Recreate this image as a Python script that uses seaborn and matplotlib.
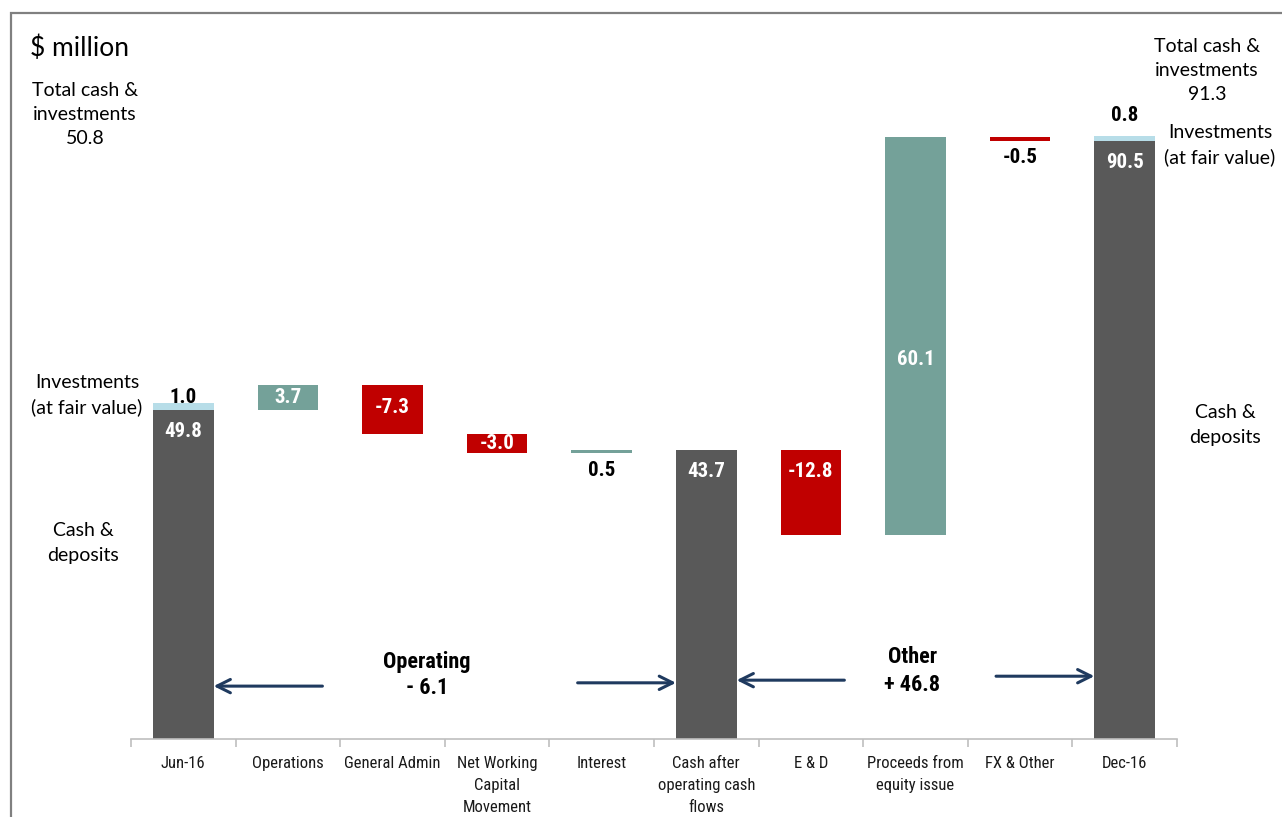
import matplotlib
matplotlib.use("Agg")
import matplotlib.pyplot as plt
from matplotlib import font_manager
from matplotlib.patches import Rectangle
import numpy as np
import seaborn as sns

# ---- data ($ million) ----
categories = [
    "Jun-16", "Operations", "General Admin", "Net Working\nCapital\nMovement",
    "Interest", "Cash after\noperating cash\nflows", "E & D",
    "Proceeds from\nequity issue", "FX & Other", "Dec-16",
]
cash_values = [49.8, 3.7, -7.3, -3.0, 0.5, 43.7, -12.8, 60.1, -0.5, 90.5]
is_total = [True, False, False, False, False, True, False, False, False, True]
investments = [1.0, 0, 0, 0, 0, 0, 0, 0, 0, 0.8]

DARK = "#595959"
TEAL = "#74A199"
RED = "#C00000"
LIGHT_BLUE = "#B7DDE8"
ARROW = "#1F3A5F"

sns.set_theme(style="white")
avail = {f.name for f in font_manager.fontManager.ttflist}
NARROW = next((n for n in ["Liberation Sans Narrow", "Arial Narrow", "Roboto Condensed"]
               if n in avail), "Liberation Sans")
narrow_ok = NARROW != "Liberation Sans"
SIDE = "Lato" if "Lato" in avail else "DejaVu Sans"
plt.rcParams["font.family"] = [NARROW, "DejaVu Sans"]

# waterfall geometry
bottoms, heights, colors = [], [], []
running = 0.0
for v, tot in zip(cash_values, is_total):
    if tot:
        bottoms.append(0.0)
        heights.append(v)
        colors.append(DARK)
        running = v
    else:
        bottoms.append(running + min(v, 0))
        heights.append(abs(v))
        colors.append(TEAL if v > 0 else RED)
        running += v

W = 0.58
fig = plt.figure(figsize=(12.82, 8.17), dpi=100)
ax = fig.add_axes([131 / 1282, 1 - 739 / 817, 1046 / 1282, 661 / 817])

sns.barplot(x=categories, y=heights, order=categories, width=W,
            errorbar=None, linewidth=0, ax=ax)
main_bars = list(ax.patches)
for p, b, c in zip(main_bars, bottoms, colors):
    p.set_y(b)
    p.set_facecolor(c)

sns.barplot(x=categories, y=investments, order=categories, width=W,
            errorbar=None, linewidth=0, ax=ax)
inv_bars = list(ax.patches)[len(main_bars):]
for p, b, h in zip(inv_bars, bottoms, heights):
    p.set_y(b + h)
    p.set_facecolor(LIGHT_BLUE)

ax.set_xlim(-0.5, len(categories) - 0.5)
ax.set_ylim(0, 100)

# ---- value labels ----
lab_size = 15 if narrow_ok else 13.5
lab = dict(fontsize=lab_size, fontweight="bold", ha="center", va="center")
for i, (v, b, h) in enumerate(zip(cash_values, bottoms, heights)):
    top = b + h
    if h < 1.5:
        ax.text(i, b - 2.6, f"{v:.1f}", color="black", **lab)
    else:
        y = max(top - 3.3, b + h / 2)
        if categories[i].startswith("Proceeds"):
            y = b + h / 2 - 3.6
        ax.text(i, y, f"{v:.1f}", color="white", **lab)
inv_offsets = {0: 0.9, len(categories) - 1: 3.0}
for i, inv in enumerate(investments):
    if inv:
        top = bottoms[i] + heights[i] + inv
        ax.text(i, top + inv_offsets[i], f"{inv:.1f}", color="black", **lab)

# ---- bracket arrows and group totals ----
first, mid, last = 0, is_total.index(True, 1), len(categories) - 1
operating = cash_values[mid] - cash_values[first]
other = cash_values[last] - cash_values[mid]
arrow_kw = dict(arrowstyle="->", color=ARROW, lw=2.2, mutation_scale=24,
                shrinkA=0, shrinkB=0)
for head, tail, y in [
    (first + W / 2, first + W / 2 + 1.04, 8.0),
    (mid - W / 2, mid - W / 2 - 0.94, 8.5),
    (mid + W / 2, mid + W / 2 + 1.03, 8.9),
    (last - W / 2, last - W / 2 - 0.94, 9.5),
]:
    ax.annotate("", xy=(head, y), xytext=(tail, y), arrowprops=arrow_kw)

grp = dict(fontsize=16 if narrow_ok else 15, fontweight="bold", ha="center",
           va="center", color="black")
ax.text(2.33, 11.6, "Operating", **grp)
ax.text(2.33, 7.7, f"- {abs(operating):.1f}", **grp)
ax.text(6.97, 12.4, "Other", **grp)
ax.text(6.97, 8.2, f"+ {other:.1f}", **grp)

# ---- axes styling ----
for s in ["left", "top", "right"]:
    ax.spines[s].set_visible(False)
ax.spines["bottom"].set_color("#BFBFBF")
ax.spines["bottom"].set_linewidth(1.2)
ax.set_yticks([])
ax.set_xticks(range(len(categories)))
ax.set_xticklabels(categories, fontsize=12 if narrow_ok else 11.5, color="#1a1a1a",
                   linespacing=1.6, va="top")
ax.set_xticks(np.arange(-0.5, len(categories), 1), minor=True)
ax.tick_params(axis="x", which="major", length=0, pad=12)
ax.tick_params(axis="x", which="minor", length=6, width=1.2, color="#BFBFBF",
               direction="out", bottom=True)
ax.set_xlabel("")

# ---- side annotations (figure pixel positions) ----
def ftext(px, py, s, **kw):
    fig.text(px / 1282, 1 - py / 817, s, family=[SIDE, "DejaVu Sans"], **kw)

side = dict(fontsize=14, ha="center", va="center", linespacing=1.5, color="black")
start_total = cash_values[first] + investments[first]
end_total = cash_values[last] + investments[last]
ftext(30, 48, "$ million", fontsize=19, ha="left", va="center", color="black")
ftext(85, 114, f"Total cash &\ninvestments\n{start_total:.1f}", **side)
ftext(87, 395, "Investments\n(at fair value)", **side)
ftext(83, 543, "Cash &\ndeposits", **side)
ftext(1207, 70, f"Total cash &\ninvestments\n{end_total:.1f}", **side)
ftext(1220, 145, "Investments\n(at fair value)", **side)
ftext(1225, 425, "Cash &\ndeposits", **side)

# frame around the slide area
fig.patches.append(Rectangle((11 / 1282, -0.2), 1.5, 1.2 - 13 / 817, fill=False,
                             edgecolor="#808080", linewidth=1.6,
                             transform=fig.transFigure, figure=fig))

fig.savefig("out.png", dpi=100)
